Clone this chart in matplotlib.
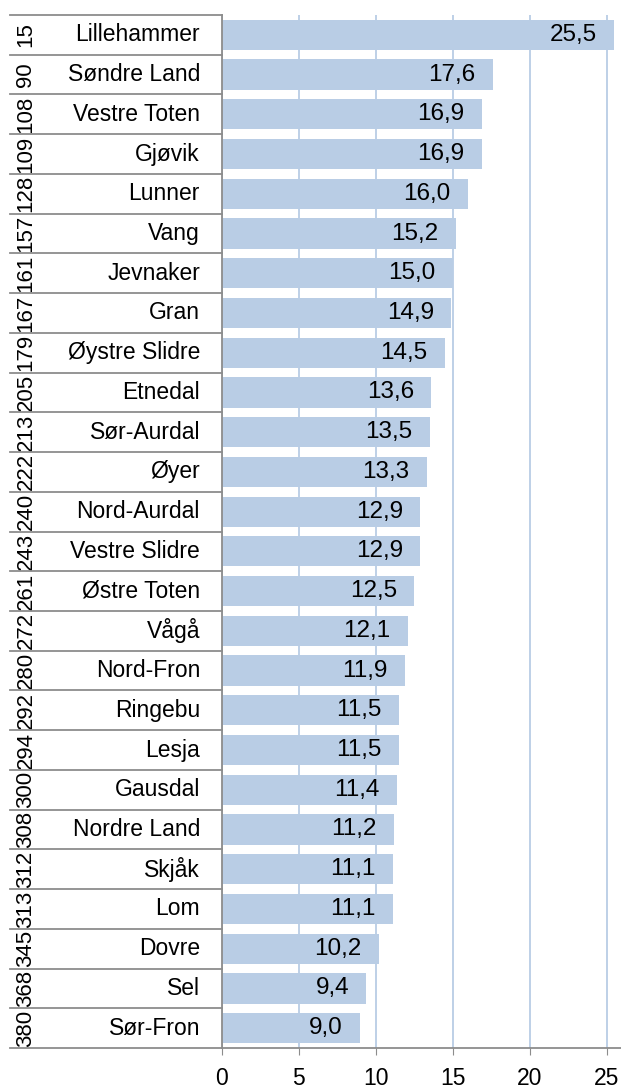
import numpy as np
import matplotlib
matplotlib.use("Agg")
import matplotlib.pyplot as plt

plt.rcParams["font.family"] = ["Liberation Sans", "DejaVu Sans"]

# --------- data ---------
kommuner = ["Lillehammer", "Søndre Land", "Vestre Toten", "Gjøvik", "Lunner", "Vang",
            "Jevnaker", "Gran", "Øystre Slidre", "Etnedal", "Sør-Aurdal", "Øyer",
            "Nord-Aurdal", "Vestre Slidre", "Østre Toten", "Vågå", "Nord-Fron", "Ringebu",
            "Lesja", "Gausdal", "Nordre Land", "Skjåk", "Lom", "Dovre", "Sel", "Sør-Fron"]
rang = ["15", "90", "108", "109", "128", "157", "161", "167", "179", "205", "213", "222",
        "240", "243", "261", "272", "280", "292", "294", "300", "308", "312", "313", "345",
        "368", "380"]
verdi = [25.5, 17.6, 16.9, 16.9, 16.0, 15.2, 15.0, 14.9, 14.5, 13.6, 13.5, 13.3,
         12.9, 12.9, 12.5, 12.1, 11.9, 11.5, 11.5, 11.4, 11.2, 11.1, 11.1, 10.2, 9.4, 9.0]
xticks = [0, 5, 10, 15, 20, 25]

BAR = "#b9cde5"
GREY = "#8c8c8c"

W, H = 621, 1091
fig = plt.figure(figsize=(W / 100, H / 100), dpi=100)
ax_l, ax_r, ax_t, ax_b = 221.7, 621, 15, 1048
ax = fig.add_axes([ax_l / W, 1 - ax_b / H, (ax_r - ax_l) / W, (ax_b - ax_t) / H])

y = np.arange(len(kommuner))
rects = ax.barh(y, verdi, height=0.76, color=BAR, zorder=2)
for r, v in zip(rects, verdi):
    ax.annotate(f"{v:.1f}".replace(".", ","), (r.get_width(), r.get_y() + r.get_height() / 2),
                xytext=(-12.5, 0), textcoords="offset points", ha="right", va="center",
                fontsize=17.5, zorder=3)

ax.set_xlim(0, (ax_r - ax_l) / 15.4)
ax.set_ylim(len(kommuner) - 0.5, -0.5)
ax.set_xticks(xticks)
ax.set_xticklabels([str(t) for t in xticks], fontsize=16.5)
ax.tick_params(axis="x", length=5, color=GREY, pad=9)
ax.set_yticks([])
ax.grid(axis="x", color=BAR, linewidth=1.3, zorder=1)

for s in ["top", "right"]:
    ax.spines[s].set_visible(False)
for s in ["left", "bottom"]:
    ax.spines[s].set_color(GREY)
    ax.spines[s].set_linewidth(1.3)

# two-level category labels
tr = ax.get_yaxis_transform()
x_left = (10 - ax_l) / (ax_r - ax_l)
x_rank = (26 - ax_l) / (ax_r - ax_l)
x_name = (200 - ax_l) / (ax_r - ax_l)
for i, (navn, rk) in enumerate(zip(kommuner, rang)):
    ax.text(x_name, i, navn, transform=tr, ha="right", va="center", fontsize=16.5)
    ax.text(x_rank, i, rk, transform=tr, ha="center", va="center", rotation=90, fontsize=16)
for b in np.arange(-0.5, len(kommuner), 1.0):
    ax.plot([x_left, 0], [b, b], transform=tr, color=GREY, linewidth=1.3,
            clip_on=False, zorder=4)

fig.savefig("out.png", dpi=100)
